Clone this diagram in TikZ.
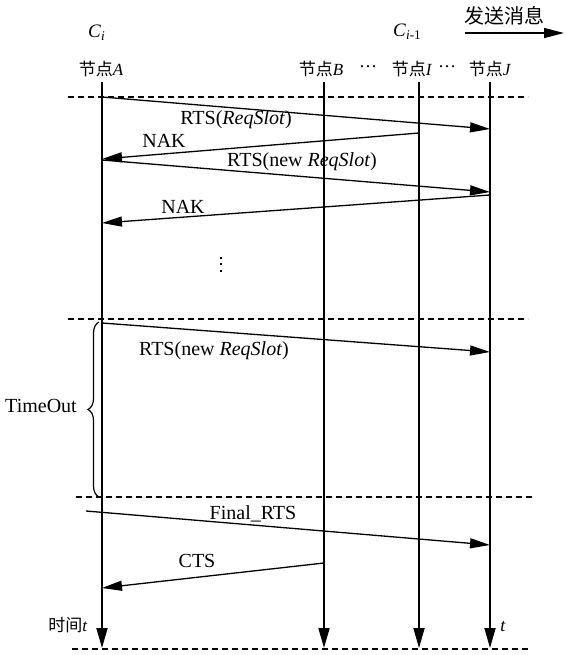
\documentclass[tikz,border=0pt]{standalone}
\usepackage{fontspec}
\setmainfont{Liberation Serif}
\newfontfamily\cjk{Noto Sans CJK SC}
\usetikzlibrary{arrows.meta,decorations.pathreplacing}
\begin{document}
\begin{tikzpicture}[x=1pt,y=-1pt,
  life/.style={line width=1.8pt,-{Triangle[length=20pt,width=11pt]}},
  msg/.style={line width=1.3pt,-{Triangle[length=20pt,width=10pt]}},
  sep/.style={line width=1.2pt,dash pattern=on 6pt off 4pt},
  lbl/.style={font=\fontsize{20}{22}\selectfont, inner sep=0pt},
  hdr/.style={font=\fontsize{17}{20}\selectfont, inner sep=0pt},
  dotmark/.style={fill=black, minimum size=2.2pt, inner sep=0pt, shape=rectangle},
]
\useasboundingbox (0,0) rectangle (565,655);

% headers
\node[font=\fontsize{19}{22}\selectfont, inner sep=0pt, anchor=base west] (ci) at (88,38) {\textit{C}\textsubscript{\textit{i}}};
\node[font=\fontsize{19}{22}\selectfont, inner sep=0pt, anchor=base west] (cim) at (393,37) {\textit{C}\textsubscript{\textit{i}-1}};
\node[font=\fontsize{20}{22}\selectfont, inner sep=0pt] (send) at (504,16) {\cjk 发送消息};
\coordinate (s1) at (465,33);
\coordinate (s2) at (564,33);
\draw[msg, line width=1.5pt] (s1) -- (s2);

\node[hdr] (hA) at (101,69) {{\cjk 节点}\textit{A}};
\node[hdr] (hB) at (321,69) {{\cjk 节点}\textit{B}};
\node[font=\fontsize{18}{20}\selectfont, inner sep=0pt] (d1) at (368,69) {\raisebox{0.28em}{…}};
\node[hdr] (hI) at (412,69) {{\cjk 节点}\textit{I}};
\node[font=\fontsize{18}{20}\selectfont, inner sep=0pt] (d2) at (447,69) {\raisebox{0.28em}{…}};
\node[hdr] (hJ) at (490,69) {{\cjk 节点}\textit{J}};

% lifelines
\coordinate (At) at (102,82); \coordinate (Ab) at (102,648);
\coordinate (Bt) at (324,82); \coordinate (Bb) at (324,648);
\coordinate (It) at (419,82); \coordinate (Ib) at (419,648);
\coordinate (Jt) at (490,82); \coordinate (Jb) at (490,648);
\draw[life] (At) -- (Ab);
\draw[life] (Bt) -- (Bb);
\draw[life] (It) -- (Ib);
\draw[life] (Jt) -- (Jb);

% separators
\draw[sep] (68,97) -- (528,97);
\draw[sep] (68,319) -- (528,319);
\draw[sep] (76,497) -- (533,497);
\draw[sep] (72,649) -- (530,649);

% messages
\coordinate (m1a) at (102,97);  \coordinate (m1b) at (490,129);
\draw[msg] (m1a) -- (m1b);
\node[lbl] (l1) at (236,120) {RTS(\textit{ReqSlot})};

\coordinate (m2a) at (419,133); \coordinate (m2b) at (102,159);
\draw[msg] (m2a) -- (m2b);
\node[lbl] (l2) at (164,141) {NAK};

\coordinate (m3a) at (102,160); \coordinate (m3b) at (490,192);
\draw[msg] (m3a) -- (m3b);
\node[lbl] (l3) at (302,161.5) {RTS(new \textit{ReqSlot})};

\coordinate (m4a) at (490,195); \coordinate (m4b) at (102,223);
\draw[msg] (m4a) -- (m4b);
\node[lbl] (l4) at (183,206.5) {NAK};

% vertical ellipsis
\node[dotmark] (v1) at (221,257.7) {};
\node[dotmark] (v2) at (221,264.3) {};
\node[dotmark] (v3) at (221,271) {};

\coordinate (m5a) at (102,323); \coordinate (m5b) at (490,352);
\draw[msg] (m5a) -- (m5b);
\node[lbl] (l5) at (214,350.5) {RTS(new \textit{ReqSlot})};

% timeout brace
\coordinate (br1) at (99,497); \coordinate (br2) at (99,322);
\draw[line width=1.2pt, decorate, decoration={brace, amplitude=11pt}] (br1) -- (br2);
\node[lbl] (to) at (41,406) {TimeOut};

% final
\coordinate (m6a) at (86,511); \coordinate (m6b) at (490,545);
\draw[msg] (m6a) -- (m6b);
\node[lbl] (l6) at (253,514) {Final\_RTS};

\coordinate (m7a) at (324,563); \coordinate (m7b) at (102,588);
\draw[msg] (m7a) -- (m7b);
\node[lbl] (l7) at (197,561) {CTS};

% time labels
\node[hdr] (tA) at (68,625) {{\cjk 时间}\textit{t}};
\node[font=\fontsize{18}{20}\selectfont, inner sep=0pt] (tJ) at (503,627) {\textit{t}};
\end{tikzpicture}
\end{document}
